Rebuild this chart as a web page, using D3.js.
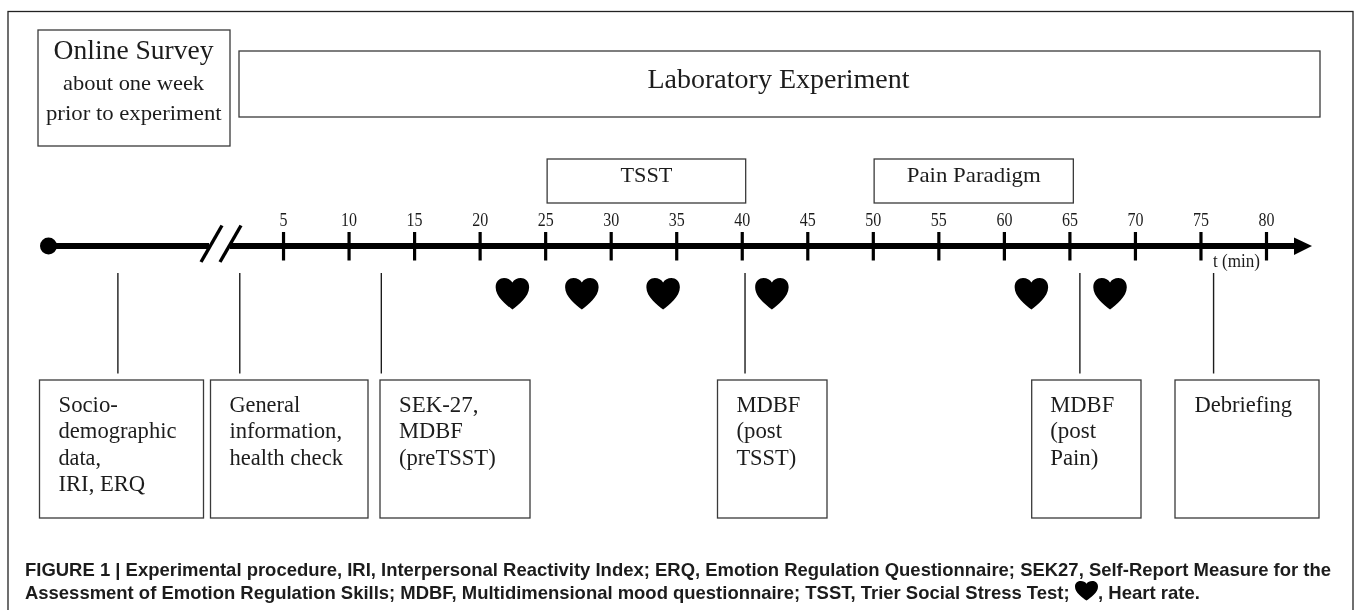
<!DOCTYPE html>
<html><head><meta charset="utf-8">
<script src="https://cdn.jsdelivr.net/npm/d3@7"></script>
<style>html,body{margin:0;padding:0;background:#fff;overflow:hidden}svg{display:block;filter:blur(0.35px)}</style>
</head><body><svg id="c" width="1355" height="610"></svg>
<script>
// ---- data ----
const tickMinutes = [5,10,15,20,25,30,35,40,45,50,55,60,65,70,75,80];
const tickLabels = tickMinutes.map(String);
const heartMinutes = [22.5,27.8,34,42.3,62.1,68.1];
const phaseNames = ["TSST","Pain Paradigm"];
const phaseStart = [25.15,50.1];
const phaseEnd = [40.3,65.3];
const measureMinutes = [-7.6,1.7,12.5,40.25,65.8,76];
const measureLines = [
  ["Socio-","demographic","data,","IRI, ERQ"],
  ["General","information,","health check"],
  ["SEK-27,","MDBF","(preTSST)"],
  ["MDBF","(post","TSST)"],
  ["MDBF","(post","Pain)"],
  ["Debriefing"]
];
const surveyLines = ["Online Survey","about one week","prior to experiment"];
const labTitle = "Laboratory Experiment";
const axisUnit = "t (min)";
const captionLine1 = "FIGURE 1 | Experimental procedure, IRI, Interpersonal Reactivity Index; ERQ, Emotion Regulation Questionnaire; SEK27, Self-Report Measure for the";
const captionLine2a = "Assessment of Emotion Regulation Skills; MDBF, Multidimensional mood questionnaire; TSST, Trier Social Stress Test;";
const captionLine2b = ", Heart rate.";

// ---- layout ----
const ink = "#1c1c1c", boxInk = "#3a3a3a";
const serif = "'Liberation Serif','Times New Roman',serif";
const sans = "'Liberation Sans',Arial,sans-serif";
const svg = d3.select("#c");
const x = d3.scaleLinear().domain([0,80]).range([217.5,1266]);
const axisY = 246;

function box(l,t,r,b,sw){
  svg.append("rect").attr("x",l).attr("y",t).attr("width",r-l).attr("height",b-t)
    .attr("fill","#fff").attr("stroke",boxInk).attr("stroke-width",sw||1.3);
}
function label(str,xp,y,size,w,anchor,fam,weight){
  const n = svg.append("text").attr("x",xp).attr("y",y).text(str)
    .attr("font-family",fam||serif).attr("font-size",size).attr("fill",ink)
    .attr("text-anchor",anchor||"start");
  if(weight) n.attr("font-weight",weight);
  if(w) n.attr("textLength",w).attr("lengthAdjust","spacingAndGlyphs");
  return n;
}
function heartPath(cx,top,w,h){
  const p=d3.path(), hw=w/2;
  p.moveTo(cx,top+h);
  p.bezierCurveTo(cx-hw*0.35,top+h*0.85,cx-hw,top+h*0.6,cx-hw,top+h*0.29);
  p.bezierCurveTo(cx-hw,top+h*0.09,cx-hw*0.74,top,cx-hw*0.5,top);
  p.bezierCurveTo(cx-hw*0.28,top,cx-hw*0.1,top+h*0.05,cx,top+h*0.14);
  p.bezierCurveTo(cx+hw*0.1,top+h*0.05,cx+hw*0.28,top,cx+hw*0.5,top);
  p.bezierCurveTo(cx+hw*0.74,top,cx+hw,top+h*0.09,cx+hw,top+h*0.29);
  p.bezierCurveTo(cx+hw,top+h*0.6,cx+hw*0.35,top+h*0.85,cx,top+h);
  p.closePath();
  return p.toString();
}

// outer frame (runs off the bottom of the picture)
svg.append("rect").attr("x",8).attr("y",11.5).attr("width",1345).attr("height",640)
  .attr("fill","none").attr("stroke","#222").attr("stroke-width",1.3);

// header boxes
box(38,30,230,146);
const surveyLayout=[[133.6,58.5,28,160],[133.6,90,22,141],[133.8,120,22,175.6]];
surveyLines.forEach((s,i)=>{const L=surveyLayout[i];label(s,L[0],L[1],L[2],L[3],"middle");});
box(239,51,1320,117);
label(labTitle,778.5,87.5,28,262,"middle");

// phase boxes
const phaseWidths=[52,134];
phaseNames.forEach((s,i)=>{
  box(x(phaseStart[i]),159,x(phaseEnd[i]),203);
  label(s,(x(phaseStart[i])+x(phaseEnd[i]))/2,181.5,22,phaseWidths[i],"middle");
});

// time axis
svg.append("line").attr("x1",48).attr("x2",209).attr("y1",axisY).attr("y2",axisY)
  .attr("stroke","#000").attr("stroke-width",6);
svg.append("line").attr("x1",230).attr("x2",1296).attr("y1",axisY).attr("y2",axisY)
  .attr("stroke","#000").attr("stroke-width",6);
svg.append("circle").attr("cx",48.5).attr("cy",axisY).attr("r",8.5).attr("fill","#000");
svg.append("path").attr("d",d3.line()([[1294,237.5],[1312,246],[1294,255]])+"Z").attr("fill","#000");
[[222,201],[241,220]].forEach(s=>{
  svg.append("line").attr("x1",s[0]).attr("y1",225.5).attr("x2",s[1]).attr("y2",262)
    .attr("stroke","#000").attr("stroke-width",3.4);
});
const axisG=svg.append("g").attr("transform",`translate(0,${axisY})`)
  .call(d3.axisTop(x).tickValues(tickMinutes).tickFormat((d,i)=>tickLabels[i]).tickSize(14).tickPadding(6));
axisG.select(".domain").remove();
axisG.selectAll(".tick line").attr("y1",-14).attr("y2",14.5).attr("stroke","#000").attr("stroke-width",3.2);
axisG.selectAll(".tick text").attr("font-family",serif).attr("font-size",18).attr("fill",ink)
  .attr("y",-20.3).attr("dy",0)
  .attr("textLength",(d,i)=>tickLabels[i].length*8).attr("lengthAdjust","spacingAndGlyphs");
label(axisUnit,1213,267,18,47);

// hearts
svg.append("g").selectAll("path").data(heartMinutes).join("path")
  .attr("d",d=>heartPath(x(d),278,33.5,31.5)).attr("fill","#000");

// measurement connectors and boxes
svg.append("g").selectAll("line").data(measureMinutes).join("line")
  .attr("x1",d=>x(d)).attr("x2",d=>x(d)).attr("y1",273).attr("y2",373.5)
  .attr("stroke",ink).attr("stroke-width",1.4);
const lowerBoxes=[[39.5,203.5],[210.5,368],[380,530],[717.5,827],[1031.7,1141],[1175,1319]];
const lowerTextX=[58.5,229.4,399,736.4,1050.2,1194.4];
const lowerWidths=[[59.4,118,42.5,86.7],[70.7,112.7,113.6],[79.4,63.7,96.7],[64,45.6,59.8],[64,46,48.2],[97.7]];
const lineBase=[411.5,438,464.5,490.5];
measureLines.forEach((lines,i)=>{
  box(lowerBoxes[i][0],380,lowerBoxes[i][1],518);
  lines.forEach((s,j)=>label(s,lowerTextX[i],lineBase[j],24,lowerWidths[i][j]));
});

// caption
label(captionLine1,25,575.5,18.5,1306,"start",sans,"bold");
label(captionLine2a,25,598.5,18.5,1044.6,"start",sans,"bold");
svg.append("path").attr("d",heartPath(1086.5,581,23,19.5)).attr("fill","#000");
label(captionLine2b,1098,598.5,18.5,102,"start",sans,"bold");
</script></body></html>
